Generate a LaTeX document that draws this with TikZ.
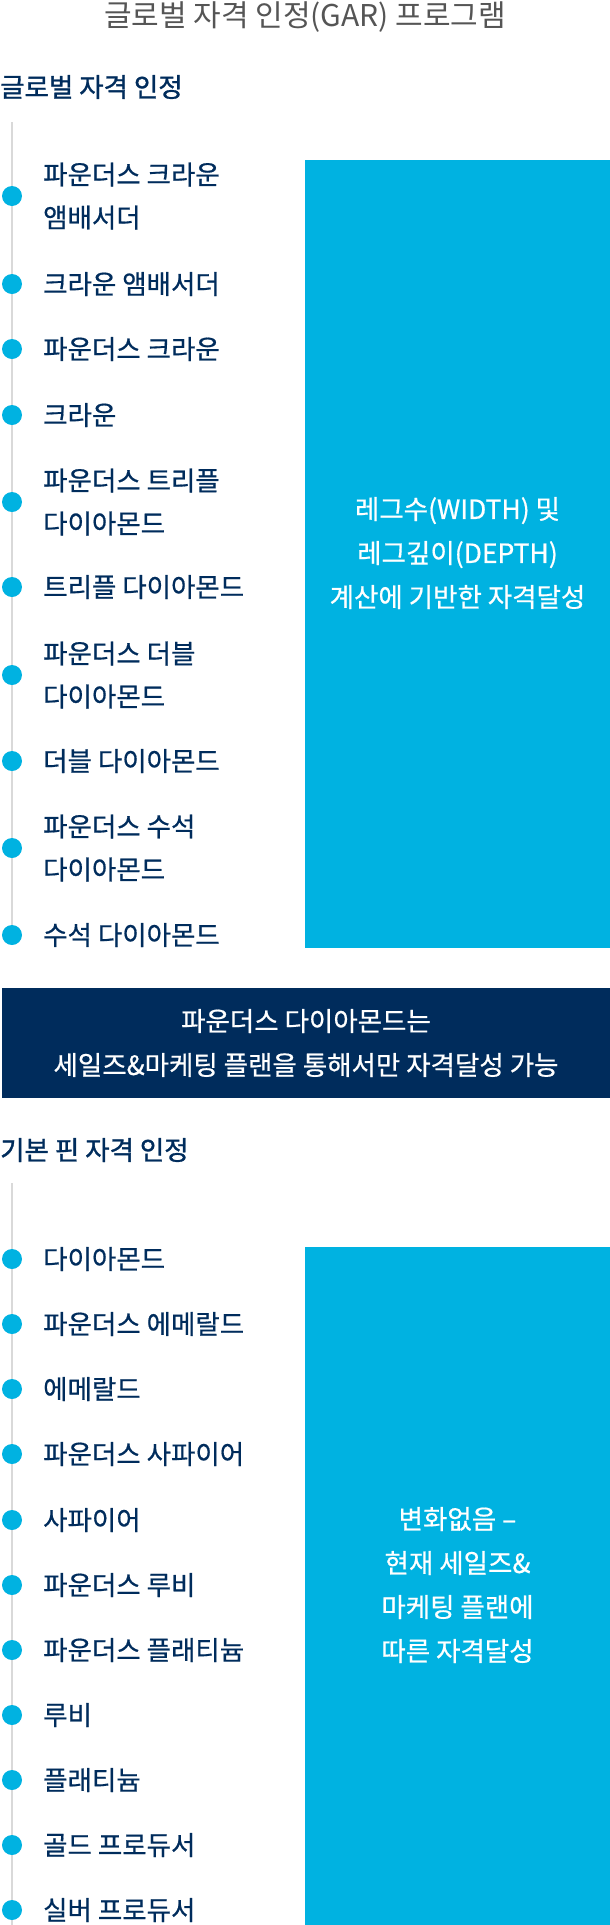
\documentclass[tikz,border=0pt]{standalone}
\usepackage{fontspec}
\setmainfont{Noto Sans CJK KR}[FakeBold=0.6]
\newfontfamily\headfont{Noto Sans CJK KR}[FakeBold=1.2]
\newfontfamily\plainfont{Noto Sans CJK KR}
\definecolor{navy}{HTML}{002C5C}
\definecolor{sky}{HTML}{00B2E1}
\definecolor{rail}{HTML}{D9D9D9}
\definecolor{titlegray}{HTML}{555555}
\begin{document}
\begin{tikzpicture}[x=1pt,y=-1pt,
  item/.style={anchor=west, inner sep=0pt, text=navy, align=left, font=\fontsize{26.5}{43}\selectfont},
  dot/.style={circle, fill=sky, minimum size=20pt, inner sep=0pt},
  railline/.style={draw=rail, line width=2pt},
  heading/.style={anchor=west, inner sep=0pt, text=navy, font=\headfont\fontsize{26.5}{30}\selectfont},
  paneltext/.style={inner sep=0pt, text=white, align=center, font=\fontsize{26.5}{44}\selectfont}
]
\useasboundingbox (0,0) rectangle (610,1925);
\node[inner sep=0pt, text=titlegray, font=\plainfont\fontsize{30}{34}\selectfont] (title) at (305,17) {글로벌 자격 인정(GAR) 프로그램};
\node[heading] (h1) at (0,87) {글로벌 자격 인정};
\node[heading] (h2) at (0,1150) {기본 핀 자격 인정};
% panels
\fill[sky] (305,160) rectangle (610,948);
\node[paneltext] (p1) at (457.5,553) {레그수(WIDTH) 및\\레그깊이(DEPTH)\\계산에 기반한 자격달성};
\fill[navy] (2,988) rectangle (610,1098);
\node[paneltext] (p2) at (306,1043) {파운더스 다이아몬드는\\세일즈\&마케팅 플랜을 통해서만 자격달성 가능};
\fill[sky] (305,1247) rectangle (610,1925);
\node[paneltext] (p3) at (457.5,1585) {변화없음 –\\현재 세일즈\&\\마케팅 플랜에\\따른 자격달성};
% rails and items
\coordinate (r1) at (12,122);
\coordinate (r2) at (12,1183);
\coordinate (r2end) at (12,1925);
\foreach \yy [count=\i] in {196,284,349,415,502,587,675,761,848,935}{
  \coordinate (a\i) at (12,\yy);
}
\draw[railline] (r1) -- (a10);
\foreach \yy [count=\i] in {1259,1324,1389,1454,1520,1585,1650,1715,1780,1845,1910}{
  \coordinate (b\i) at (12,\yy);
}
\draw[railline] (r2) -- (r2end);
\foreach \t [count=\i] in {{파운더스 크라운\\앰배서더},{크라운 앰배서더},{파운더스 크라운},{크라운},{파운더스 트리플\\다이아몬드},{트리플 다이아몬드},{파운더스 더블\\다이아몬드},{더블 다이아몬드},{파운더스 수석\\다이아몬드},{수석 다이아몬드}}{
  \node[dot] (da\i) at (a\i) {};
  \node[item] (ta\i) at ([xshift=31pt]a\i) {\t};
}
\foreach \t [count=\i] in {다이아몬드,파운더스 에메랄드,에메랄드,파운더스 사파이어,사파이어,파운더스 루비,파운더스 플래티늄,루비,플래티늄,골드 프로듀서,실버 프로듀서}{
  \node[dot] (db\i) at (b\i) {};
  \node[item] (tb\i) at ([xshift=31pt]b\i) {\t};
}
\end{tikzpicture}
\end{document}
